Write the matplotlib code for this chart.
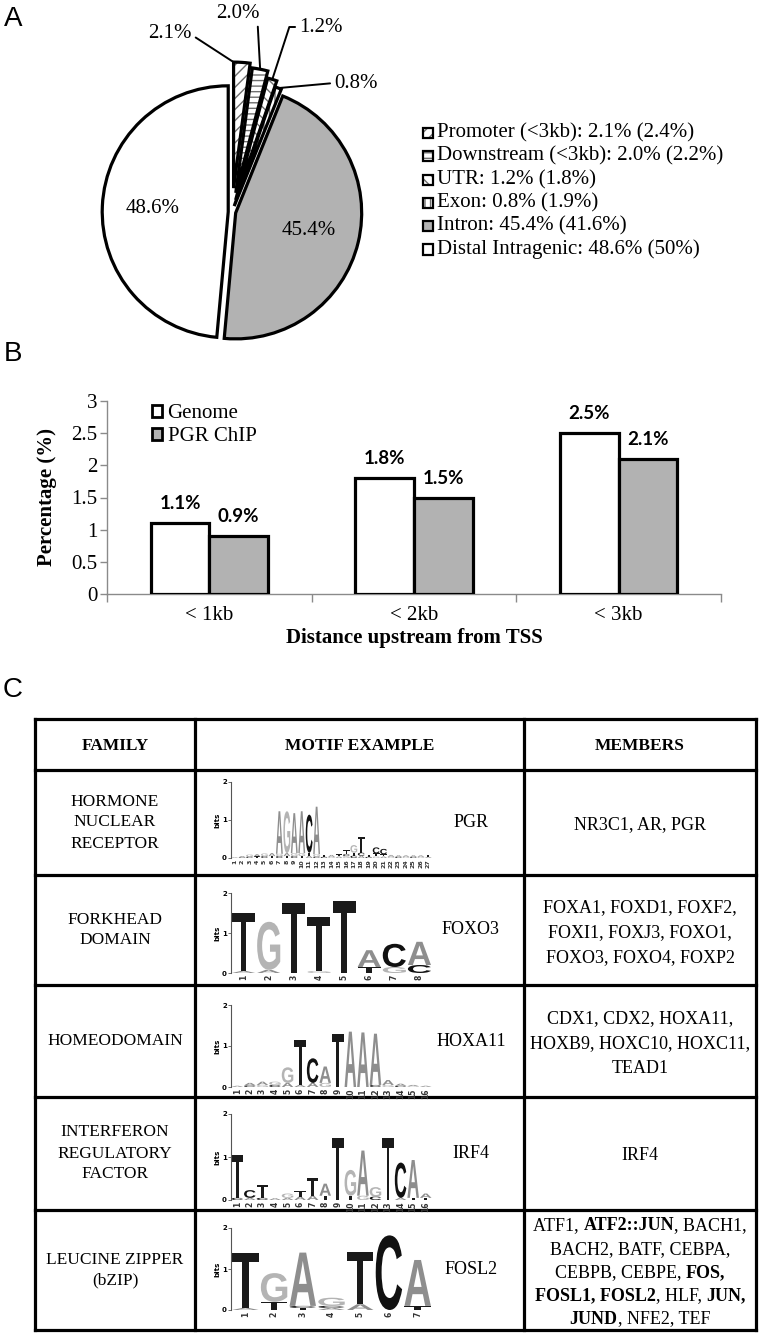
import numpy as np
import matplotlib
matplotlib.use('Agg')
import matplotlib.pyplot as plt
from matplotlib.patches import Rectangle, Wedge, PathPatch, Patch
from matplotlib.textpath import TextPath
from matplotlib.font_manager import FontProperties
from matplotlib.transforms import Affine2D

W, H = 762, 1335
SERIF = 'Liberation Serif'
SANS = 'Liberation Sans'

# ---------------- data: panel A ----------------
region_labels = ['Promoter (<3kb)', 'Downstream (<3kb)', 'UTR', 'Exon', 'Intron', 'Distal Intragenic']
pgr_region_pct = [2.1, 2.0, 1.2, 0.8, 45.4, 48.6]
genome_region_pct = [2.4, 2.2, 1.8, 1.9, 41.6, 50]

# ---------------- data: panel B ----------------
dist_categories = ['< 1kb', '< 2kb', '< 3kb']
genome_values = [1.1, 1.8, 2.5]
chip_values = [0.9, 1.5, 2.1]
bar_series = ['Genome', 'PGR ChIP']

# ---------------- data: panel C ----------------
table_headers = ['FAMILY', 'MOTIF EXAMPLE', 'MEMBERS']
families = [['HORMONE', 'NUCLEAR', 'RECEPTOR'],
            ['FORKHEAD', 'DOMAIN'],
            ['HOMEODOMAIN'],
            ['INTERFERON', 'REGULATORY', 'FACTOR'],
            ['LEUCINE ZIPPER', '(bZIP)']]
motif_names = ['PGR', 'FOXO3', 'HOXA11', 'IRF4', 'FOSL2']
members = [
    [[('NR3C1, AR, PGR', False)]],
    [[('FOXA1, FOXD1, FOXF2,', False)], [('FOXI1, FOXJ3, FOXO1,', False)], [('FOXO3, FOXO4, FOXP2', False)]],
    [[('CDX1, CDX2, HOXA11,', False)], [('HOXB9, HOXC10, HOXC11,', False)], [('TEAD1', False)]],
    [[('IRF4', False)]],
    [[('ATF1, ', False), ('ATF2::JUN', True), (', BACH1,', False)],
     [('BACH2, BATF, CEBPA,', False)],
     [('CEBPB, CEBPE, ', False), ('FOS,', True)],
     [('FOSL1, FOSL2', True), (', HLF, ', False), ('JUN,', True)],
     [('JUND', True), (', NFE2, TEF', False)]],
]

# sequence logos: per position, stacked letters bottom -> top (letter, bits)
logo_pgr = [
    [('A', 0.02)], [('C', 0.02), ('A', 0.03)], [('C', 0.04), ('G', 0.05)], [('T', 0.04), ('A', 0.06)],
    [('C', 0.05), ('G', 0.07)], [('T', 0.05), ('A', 0.08)],
    [('C', 0.05), ('G', 0.06), ('A', 1.12)], [('T', 0.05), ('A', 0.08), ('G', 1.1)],
    [('C', 0.05), ('G', 0.08), ('A', 1.05)], [('T', 0.05), ('G', 0.08), ('A', 1.1)],
    [('A', 0.06), ('T', 0.08), ('C', 1.0)], [('C', 0.04), ('G', 0.06), ('A', 1.25)],
    [('C', 0.03), ('T', 0.05)], [('G', 0.03), ('A', 0.05)], [('A', 0.04), ('T', 0.06)],
    [('G', 0.05), ('C', 0.05), ('T', 0.1)], [('C', 0.06), ('T', 0.08), ('G', 0.2)],
    [('A', 0.06), ('C', 0.08), ('T', 0.42)], [('C', 0.03), ('T', 0.05)],
    [('G', 0.04), ('T', 0.08), ('C', 0.16)], [('A', 0.04), ('T', 0.06), ('C', 0.14)],
    [('G', 0.03), ('A', 0.05)], [('C', 0.03), ('A', 0.04)], [('G', 0.03), ('A', 0.04)],
    [('C', 0.03), ('A', 0.04)], [('G', 0.03), ('A', 0.04)], [('A', 0.03), ('T', 0.06)],
]
logo_foxo3 = [
    [('A', 0.05), ('T', 1.45)], [('A', 0.08), ('G', 1.2)], [('T', 1.75)], [('G', 0.05), ('T', 1.35)],
    [('T', 1.8)], [('T', 0.15), ('A', 0.42)], [('G', 0.15), ('C', 0.58)], [('C', 0.2), ('A', 0.58)],
]
logo_hoxa11 = [
    [('A', 0.03)], [('C', 0.04), ('A', 0.06)], [('G', 0.05), ('A', 0.08)], [('C', 0.05), ('G', 0.08)],
    [('A', 0.1), ('G', 0.38)], [('A', 0.05), ('T', 1.1)], [('A', 0.1), ('C', 0.6)],
    [('G', 0.1), ('A', 0.4)], [('T', 1.3)], [('A', 1.35)], [('A', 1.33)], [('C', 0.05), ('A', 1.25)],
    [('G', 0.05), ('A', 0.12)], [('C', 0.03), ('A', 0.05)], [('G', 0.02), ('A', 0.03)], [('A', 0.03)],
]
logo_irf4 = [
    [('C', 0.05), ('T', 1.0)], [('A', 0.05), ('C', 0.18)], [('C', 0.05), ('T', 0.3)], [('A', 0.04)],
    [('A', 0.05), ('G', 0.1)], [('A', 0.08), ('T', 0.12)], [('A', 0.1), ('T', 0.42)],
    [('T', 0.1), ('A', 0.28)], [('T', 1.45)], [('T', 0.1), ('G', 0.6)], [('G', 0.1), ('A', 1.05)],
    [('C', 0.08), ('G', 0.22)], [('T', 1.45)], [('A', 0.05), ('C', 0.82)], [('T', 0.05), ('A', 0.88)],
    [('T', 0.05), ('A', 0.1)],
]
logo_fosl2 = [
    [('A', 0.05), ('T', 1.35)], [('T', 0.2), ('G', 0.7)], [('T', 0.05), ('C', 0.05), ('A', 1.3)],
    [('A', 0.05), ('C', 0.05), ('G', 0.2)], [('A', 0.14), ('T', 1.27)], [('C', 1.82)],
    [('T', 0.1), ('A', 1.12)],
]
logos = [logo_pgr, logo_foxo3, logo_hoxa11, logo_irf4, logo_fosl2]

# ---------------- style ----------------
letter_colors = {'A': '#8e8e8e', 'C': '#111111', 'G': '#b4b4b4', 'T': '#1a1a1a'}
pie_colors = ['white', 'white', 'white', 'white', '#b2b2b2', 'white']
pie_hatches = ['///', '---', '\\\\\\', '|||', None, None]
pie_explode = [0.19, 0.155, 0.1, 0.05, 0.03, 0.03]

fig = plt.figure(figsize=(W / 100, H / 100), dpi=100)
fig.patch.set_facecolor('white')


def fr(x0, y0, x1, y1):
    return [x0 / W, 1 - y1 / H, (x1 - x0) / W, (y1 - y0) / H]


ov = fig.add_axes([0, 0, 1, 1])
ov.set_xlim(0, W)
ov.set_ylim(H, 0)
ov.axis('off')

for lab, (lx, ly) in zip('ABC', [(13, 19), (13, 354), (13, 690)]):
    ov.text(lx, ly, lab, fontsize=20, family=SANS, ha='center', va='center')

# ================= Panel A: pie =================
PC = (232, 212)
PR = 126.0
axp = fig.add_axes(fr(PC[0] - 200, PC[1] - 200, PC[0] + 200, PC[1] + 200))
axp.set_facecolor('none')
wedges, _ = axp.pie(pgr_region_pct, explode=pie_explode, startangle=90, counterclock=False,
                    colors=pie_colors, radius=1.0,
                    wedgeprops=dict(edgecolor='black', linewidth=2.3))
lim = 200 / PR
axp.set_xlim(-lim, lim)
axp.set_ylim(-lim, lim)
axp.set_aspect('equal')
axp.axis('off')
for w, hz in zip(wedges, pie_hatches):
    if hz:
        w.set_edgecolor('#6f6f6f')
        w.set_hatch(hz)
        w.set_linewidth(0)
        axp.add_patch(Wedge(w.center, w.r, w.theta1, w.theta2, fill=False,
                            edgecolor='black', linewidth=2.3, zorder=w.get_zorder() + 0.1))


def px2pie(px, py):
    return ((px - PC[0]) / PR, (PC[1] - py) / PR)


def wedge_point(w, rfrac, ang=None):
    tm = np.deg2rad(0.5 * (w.theta1 + w.theta2) if ang is None else ang)
    return (w.center[0] + rfrac * w.r * np.cos(tm), w.center[1] + rfrac * w.r * np.sin(tm))


# inner labels for the two large slices
for i in (4, 5):
    xy = wedge_point(wedges[i], 0.6)
    axp.text(xy[0], xy[1], f'{pgr_region_pct[i]:.1f}%', fontsize=15, family=SERIF,
             ha='center', va='center')

# outer labels with leader lines for small slices
small_label_px = [(170, 34), (238, 13), (321, 27), (356, 83)]
small_relpos = [(1, 0.5), (0.95, 0.0), (0, 0.5), (0, 0.5)]
small_conn = ['angle,angleA=0,angleB=147,rad=0', 'arc3,rad=0',
              'angle,angleA=0,angleB=72,rad=0', 'arc3,rad=0']
small_anchor_ang = ['theta2', 'mid', 'mid', 'mid']
for i in range(4):
    w = wedges[i]
    anchor = wedge_point(w, 1.0, w.theta2 if small_anchor_ang[i] == 'theta2' else None)
    axp.annotate(f'{pgr_region_pct[i]:.1f}%', xy=anchor, xytext=px2pie(*small_label_px[i]),
                 textcoords='data', fontsize=15, family=SERIF, ha='center', va='center',
                 arrowprops=dict(arrowstyle='-', color='black', lw=1.4, shrinkA=1, shrinkB=0,
                                 relpos=small_relpos[i], connectionstyle=small_conn[i]))

# legend for panel A
for i, (lab, p, g) in enumerate(zip(region_labels, pgr_region_pct, genome_region_pct)):
    y = 133 + 23.3 * i
    fcol = pie_colors[i]
    hz = pie_hatches[i]
    r1 = Rectangle((423 / W, 1 - (y + 5) / H), 10 / W, 10 / H, transform=fig.transFigure,
                   facecolor=fcol, edgecolor='#6f6f6f' if hz else 'black', hatch=hz,
                   linewidth=0 if hz else 1.6)
    fig.add_artist(r1)
    if hz:
        fig.add_artist(Rectangle((423 / W, 1 - (y + 5) / H), 10 / W, 10 / H, transform=fig.transFigure,
                                 fill=False, edgecolor='black', linewidth=1.6))
    ov.text(437, y, f'{lab}: {p:.1f}% ({g:g}%)', fontsize=15, family=SERIF, ha='left', va='center')

# ================= Panel B: bars =================
axb = fig.add_axes(fr(107, 401, 721, 594))
axb.set_facecolor('none')
x = np.arange(len(dist_categories))
bw = 0.286
b1 = axb.bar(x - bw / 2, genome_values, bw, color='white', edgecolor='black', linewidth=2.3, zorder=3)
b2 = axb.bar(x + bw / 2, chip_values, bw, color='#b2b2b2', edgecolor='black', linewidth=2.3, zorder=3)
axb.set_xlim(-0.5, len(dist_categories) - 0.5)
axb.set_ylim(0, 3)
axb.set_yticks(np.arange(0, 3.01, 0.5))
axb.set_yticklabels(['0', '0.5', '1', '1.5', '2', '2.5', '3'])
axb.set_xticks(np.arange(-0.5, len(dist_categories), 1.0))
axb.set_xticklabels([])
axb.set_xticks(x, minor=True)
axb.set_xticklabels(dist_categories, minor=True)
axb.tick_params(axis='x', which='major', length=6, color='#8a8a8a', width=1)
axb.tick_params(axis='x', which='minor', length=0, pad=9, labelsize=15)
axb.tick_params(axis='y', length=5, color='#8a8a8a', width=1, labelsize=15, pad=2)
for lab in axb.get_xticklabels(minor=True) + axb.get_yticklabels():
    lab.set_family(SERIF)
for s in ('top', 'right'):
    axb.spines[s].set_visible(False)
for s in ('left', 'bottom'):
    axb.spines[s].set_color('#8a8a8a')
    axb.spines[s].set_linewidth(1)
for bars, vals in ((b1, genome_values), (b2, chip_values)):
    for rect, v in zip(bars, vals):
        axb.annotate(f'{v:.1f}%', xy=(rect.get_x() + rect.get_width() / 2, v), xytext=(0, 14),
                     textcoords='offset points', ha='center', va='center', fontsize=13.5,
                     family='Lato', weight='bold')
leg_handles = [Patch(facecolor='white', edgecolor='black', linewidth=2.0),
               Patch(facecolor='#b2b2b2', edgecolor='black', linewidth=2.0)]
axb.legend(leg_handles, bar_series, loc='upper left', bbox_to_anchor=(152 / W, 1 - 404 / H),
           bbox_transform=fig.transFigure, frameon=False, borderpad=0, borderaxespad=0,
           handlelength=0.5, handleheight=0.5, handletextpad=0.25, labelspacing=0.2,
           prop=dict(family=SERIF, size=15))
ov.text(47, 497, 'Percentage (%)', rotation=90, fontsize=15, family=SERIF, weight='bold',
        ha='center', va='center')
ov.text(414, 638, 'Distance upstream from TSS', fontsize=15, family=SERIF, weight='bold',
        ha='center', va='center')

# ================= Panel C: table =================
col_x = [35, 195, 524, 756]
row_y = [719, 770, 875, 985, 1097, 1210, 1330]
for cx in col_x:
    ov.plot([cx, cx], [row_y[0], row_y[-1]], color='black', lw=2.3, solid_capstyle='projecting')
for ry in row_y:
    ov.plot([col_x[0], col_x[-1]], [ry, ry], color='black', lw=2.3, solid_capstyle='projecting')

col_centers = [(col_x[i] + col_x[i + 1]) / 2 for i in range(3)]
hy = (row_y[0] + row_y[1]) / 2
for cxc, htxt in zip(col_centers, table_headers):
    ov.text(cxc, hy + 1, htxt, fontsize=12.5, family=SERIF, weight='bold', ha='center', va='center')

renderer = fig.canvas.get_renderer()


def text_width(s, bold, size):
    t = ov.text(0, 0, s + '|', fontsize=size, family=SERIF, weight='bold' if bold else 'normal')
    w1 = t.get_window_extent(renderer).width
    t.set_text('|')
    w2 = t.get_window_extent(renderer).width
    t.remove()
    return w1 - w2


def draw_rich_lines(xc, yc, lines, size, spacing):
    n = len(lines)
    for k, segs in enumerate(lines):
        y = yc + (k - (n - 1) / 2) * spacing
        widths = [text_width(s, b, size) for s, b in segs]
        xs = xc - sum(widths) / 2
        for (s, b), wdt in zip(segs, widths):
            ov.text(xs, y + size * 100 / 72 * 0.33, s, fontsize=size, family=SERIF,
                    weight='bold' if b else 'normal', ha='left', va='baseline')
            xs += wdt


member_spacing = [24, 25, 25, 24, 23.3]
for r in range(5):
    yc = (row_y[r + 1] + row_y[r + 2]) / 2
    fam = families[r]
    nl = len(fam)
    for k, line in enumerate(fam):
        ov.text(col_centers[0], yc + (k - (nl - 1) / 2) * 21, line, fontsize=12.5, family=SERIF,
                ha='center', va='center')
    draw_rich_lines(col_centers[2], yc + 1, members[r], 13, member_spacing[r])
    ov.text(471, yc, motif_names[r], fontsize=13, family=SERIF, ha='center', va='center')

# sequence logos
logo_font = FontProperties(family=SANS, weight='bold')
logo_boxes = [(782, 858), (893, 973), (1005, 1087), (1114, 1200), (1228, 1310)]


def draw_letter(ax, ch, x0, y0, w, h, color):
    tp = TextPath((0, 0), ch, size=1, prop=logo_font)
    bb = tp.get_extents()
    tr = Affine2D().translate(-bb.x0, -bb.y0).scale(w / bb.width, h / bb.height).translate(x0, y0)
    ax.add_patch(PathPatch(tr.transform_path(tp), facecolor=color, edgecolor='none', lw=0))


for logo, (ytop, ybot) in zip(logos, logo_boxes):
    n = len(logo)
    axl = fig.add_axes(fr(231, ytop, 432, ybot))
    axl.set_facecolor('none')
    axl.set_xlim(0.5, n + 0.5)
    axl.set_ylim(0, 2)
    for s in ('top', 'right', 'bottom'):
        axl.spines[s].set_visible(False)
    axl.spines['left'].set_color('#555555')
    axl.spines['left'].set_linewidth(0.8)
    axl.set_yticks([0, 1, 2])
    axl.tick_params(axis='y', length=2, width=0.6, color='#555555', labelsize=5, pad=1)
    for lab in axl.get_yticklabels():
        lab.set_weight('bold')
    axl.set_ylabel('bits', fontsize=5, weight='bold', labelpad=1)
    axl.set_xticks(np.arange(1, n + 1))
    axl.set_xticklabels([str(i) for i in range(1, n + 1)], rotation=90,
                        fontsize=4.5 if n > 20 else 5.5, weight='bold', color='#333333')
    axl.tick_params(axis='x', length=0, pad=1)
    for p, stack in enumerate(logo, start=1):
        y0 = 0.0
        for ch, hgt in stack:
            if hgt > 0.015:
                draw_letter(axl, ch, p - 0.46, y0, 0.92, hgt, letter_colors[ch])
            y0 += hgt

fig.savefig('out.png', dpi=100, facecolor='white')
